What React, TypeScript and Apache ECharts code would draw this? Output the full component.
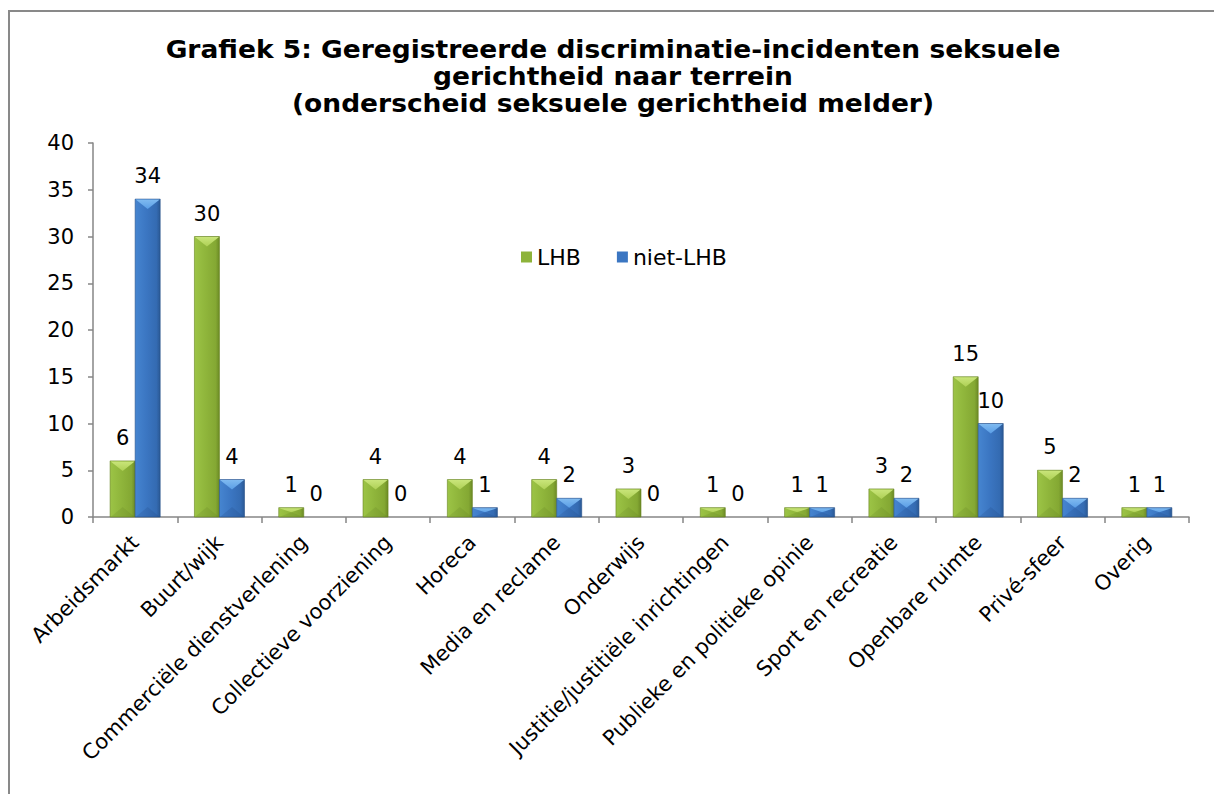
import React, { useEffect, useRef } from "react";
import * as echarts from "echarts";

const categories = [
  "Arbeidsmarkt",
  "Buurt/wijk",
  "Commerciële dienstverlening",
  "Collectieve voorziening",
  "Horeca",
  "Media en reclame",
  "Onderwijs",
  "Justitie/justitiële inrichtingen",
  "Publieke en politieke opinie",
  "Sport en recreatie",
  "Openbare ruimte",
  "Privé-sfeer",
  "Overig",
];
const lhb = [6, 30, 1, 4, 4, 4, 3, 1, 1, 3, 15, 5, 1];
const nietLhb = [34, 4, 0, 0, 1, 2, 0, 0, 1, 2, 10, 2, 1];
const seriesNames = ["LHB", "niet-LHB"];
const yTicks = { min: 0, max: 40, interval: 5 };
const titleLines = [
  "Grafiek 5: Geregistreerde discriminatie-incidenten seksuele",
  "gerichtheid naar terrein",
  "(onderscheid seksuele gerichtheid melder)",
];

const FONT = "DejaVu Sans, Verdana, sans-serif";

type Palette = {
  base: string;
  body: [string, string, string, string];
  top: [string, string];
  bottom: string;
  border: string;
};

const green: Palette = {
  base: "#8db33a",
  body: ["#9cc446", "#8fb53b", "#84a833", "#6c8a25"],
  top: ["#c9e57a", "#aed055"],
  bottom: "rgba(80,105,25,0.35)",
  border: "#66831f",
};
const blue: Palette = {
  base: "#3b76c2",
  body: ["#4685d0", "#3b76c2", "#346bb2", "#2a5894"],
  top: ["#7fbaf0", "#5a9ee6"],
  bottom: "rgba(20,50,100,0.35)",
  border: "#27518a",
};

function makeRender(side: number, pal: Palette) {
  return (params: any, api: any) => {
    const cat = api.value(0);
    const val = api.value(1);
    const base = api.coord([cat, 0]);
    const top = api.coord([cat, val]);
    const band = api.size([1, 0])[0];
    const w = band * 0.297;
    const x = base[0] + (side === 0 ? -w : 0);
    const y = top[1];
    const h = base[1] - top[1];
    const children: any[] = [];
    if (h > 0.5) {
      const d = Math.min(10, h / 2);
      children.push({
        type: "rect",
        shape: { x, y, width: w, height: h },
        style: {
          fill: new echarts.graphic.LinearGradient(0, 0, 1, 0, [
            { offset: 0, color: pal.body[0] },
            { offset: 0.45, color: pal.body[1] },
            { offset: 0.85, color: pal.body[2] },
            { offset: 1, color: pal.body[3] },
          ]),
          stroke: pal.border,
          lineWidth: 0.6,
        },
      });
      children.push({
        type: "polygon",
        shape: {
          points: [
            [x + 0.5, y + 0.5],
            [x + w - 0.5, y + 0.5],
            [x + w / 2, y + d],
          ],
        },
        style: {
          fill: new echarts.graphic.LinearGradient(0, 0, 0, 1, [
            { offset: 0, color: pal.top[0] },
            { offset: 1, color: pal.top[1] },
          ]),
        },
      });
      children.push({
        type: "polygon",
        shape: {
          points: [
            [x + 0.5, y + h],
            [x + w - 0.5, y + h],
            [x + w / 2, y + h - d],
          ],
        },
        style: { fill: pal.bottom, opacity: 0.4 },
      });
    }
    children.push({
      type: "text",
      x: x + w / 2,
      y: y - 23,
      style: {
        text: String(val),
        fontFamily: FONT,
        fontSize: 21,
        fill: "#000",
        align: "center",
        verticalAlign: "middle",
      },
    });
    return { type: "group", children };
  };
}

export default function App() {
  const ref = useRef<HTMLDivElement>(null);
  useEffect(() => {
    if (!ref.current) return;
    const chart = echarts.init(ref.current, null, { renderer: "svg" });
    const dataLhb = lhb.map((v, i) => [i, v]);
    const dataNiet = nietLhb.map((v, i) => [i, v]);
    chart.setOption({
      animation: false,
      backgroundColor: "#fff",
      graphic: [
        {
          type: "rect",
          shape: { x: 9, y: 11, width: 1220, height: 800 },
          style: { fill: "none", stroke: "#898989", lineWidth: 2 },
          silent: true,
        },
        {
          type: "text",
          x: 613,
          y: 76,
          scaleX: 1.06,
          style: {
            text: titleLines.join("\n"),
            fontFamily: FONT,
            fontWeight: "bold",
            fontSize: 25,
            lineHeight: 27,
            fill: "#000",
            align: "center",
            verticalAlign: "middle",
          },
        },
      ],
      legend: {
        data: seriesNames,
        left: 521,
        top: 246,
        padding: 0,
        icon: "rect",
        itemWidth: 11,
        itemHeight: 11,
        itemGap: 36,
        textStyle: { fontFamily: FONT, fontSize: 22, color: "#000" },
      },
      grid: { left: 93, right: 25, top: 143, bottom: 277, containLabel: false },
      xAxis: {
        type: "category",
        data: categories,
        axisLine: { lineStyle: { color: "#868686", width: 1.5 } },
        axisTick: { show: true, length: 6, lineStyle: { color: "#868686", width: 1.5 } },
        axisLabel: {
          rotate: 45,
          interval: 0,
          margin: 22,
          color: "#000",
          fontFamily: FONT,
          fontSize: 21,
        },
      },
      yAxis: {
        type: "value",
        min: yTicks.min,
        max: yTicks.max,
        interval: yTicks.interval,
        splitLine: { show: false },
        axisLine: { show: true, lineStyle: { color: "#868686", width: 1.5 } },
        axisTick: { show: true, length: 5, lineStyle: { color: "#868686", width: 1.5 } },
        axisLabel: { color: "#000", fontFamily: FONT, fontSize: 21, margin: 19 },
      },
      series: [
        {
          name: seriesNames[0],
          type: "custom",
          data: dataLhb,
          encode: { x: 0, y: 1 },
          itemStyle: { color: green.base },
          renderItem: makeRender(0, green),
          clip: false,
        },
        {
          name: seriesNames[1],
          type: "custom",
          data: dataNiet,
          encode: { x: 0, y: 1 },
          itemStyle: { color: blue.base },
          renderItem: makeRender(1, blue),
          clip: false,
        },
      ],
    });
    return () => chart.dispose();
  }, []);
  return (
    <div
      ref={ref}
      style={{ position: "absolute", left: 0, top: 0, width: 1214, height: 794 }}
    />
  );
}
